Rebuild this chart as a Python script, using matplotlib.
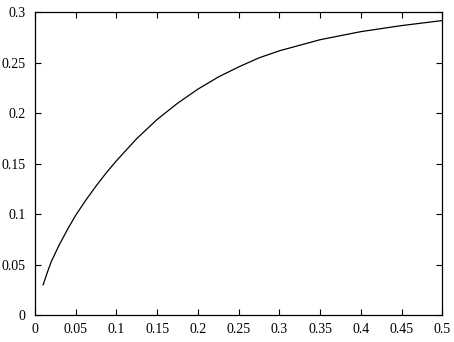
import matplotlib
matplotlib.use("Agg")
import matplotlib.pyplot as plt

# values
x_values = [0.01, 0.015, 0.02, 0.03, 0.04, 0.05, 0.0625, 0.075, 0.0875, 0.1, 0.125,
            0.15, 0.175, 0.2, 0.225, 0.25, 0.275, 0.3, 0.35, 0.4, 0.45, 0.5]
y_values = [0.030, 0.042, 0.053, 0.070, 0.085, 0.099, 0.114, 0.128, 0.141, 0.153, 0.175,
            0.194, 0.210, 0.224, 0.236, 0.246, 0.255, 0.262, 0.273, 0.281, 0.287, 0.292]

x_ticks = [0, 0.05, 0.1, 0.15, 0.2, 0.25, 0.3, 0.35, 0.4, 0.45, 0.5]
y_ticks = [0, 0.05, 0.1, 0.15, 0.2, 0.25, 0.3]

plt.rcParams['font.family'] = ['Liberation Serif', 'DejaVu Serif']

fig = plt.figure(figsize=(4.54, 3.42), dpi=100)
ax = fig.add_axes([0.0771, 0.0789, 0.8971, 0.8846])

ax.plot(x_values, y_values, color="black", linewidth=0.9)

ax.set_xlim(0, 0.5)
ax.set_ylim(0, 0.3)
ax.set_xticks(x_ticks)
ax.set_yticks(y_ticks)
ax.set_xticklabels(["%g" % t for t in x_ticks])
ax.set_yticklabels(["%g" % t for t in y_ticks])

ax.tick_params(direction="in", length=4, width=0.8, top=True, right=True,
               labelsize=10, colors="black")
ax.tick_params(axis="x", pad=6)
ax.tick_params(axis="y", pad=7)
for spine in ax.spines.values():
    spine.set_linewidth(0.9)

fig.savefig("out.png", dpi=100)
